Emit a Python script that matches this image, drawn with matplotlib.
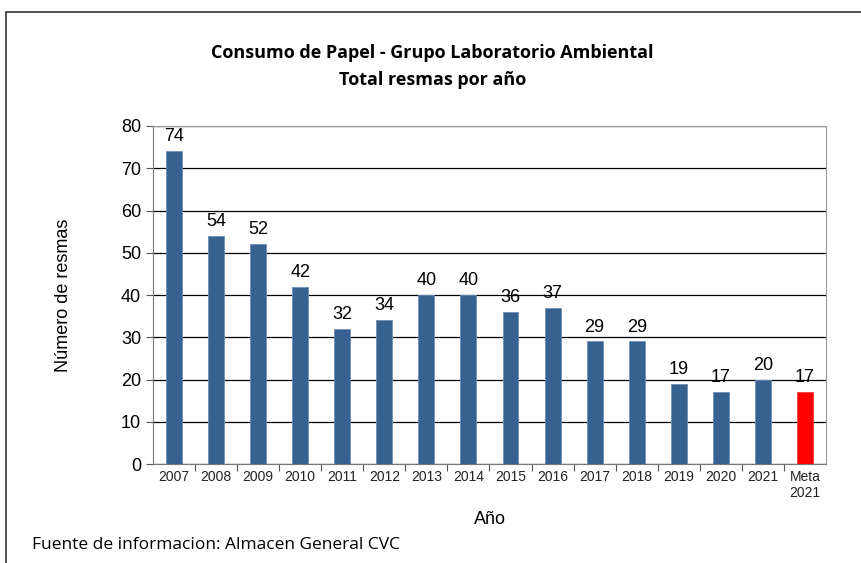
import matplotlib.pyplot as plt
from matplotlib.patches import Rectangle

# Datos
years = ["2007", "2008", "2009", "2010", "2011", "2012", "2013", "2014",
         "2015", "2016", "2017", "2018", "2019", "2020", "2021", "Meta\n2021"]
resmas = [74, 54, 52, 42, 32, 34, 40, 40, 36, 37, 29, 29, 19, 17, 20, 17]
bar_colors = ["#37618f"] * 15 + ["#ff0000"]

fig = plt.figure(figsize=(8.61, 5.63), dpi=100)
ax = fig.add_axes([0.1777, 0.1758, 0.9593 - 0.1777, 0.7762 - 0.1758])

# marco de la figura
fig.patches.append(Rectangle((6 / 861, -0.1), 1.1, 1 - 12 / 563 + 0.1,
                             transform=fig.transFigure, fill=False,
                             edgecolor="#333333", linewidth=1.2))

x = list(range(len(years)))
ax.bar(x, resmas, width=0.38, color=bar_colors, edgecolor="#6f8fb8", linewidth=0.6, zorder=3)
ax.patches[-1].set_edgecolor("#ff4040")

for xi, v in zip(x, resmas):
    ax.text(xi, v + 1.4, str(v), ha="center", va="bottom", fontsize=13,
            family="Liberation Sans", color="black")

ax.set_xlim(-0.5, len(years) - 0.5)
ax.set_ylim(0, 80)
ax.set_yticks(range(0, 81, 10))
ax.set_xticks([i + 0.5 for i in x[:-1]], minor=False)
ax.set_xticks(x, minor=True)
ax.set_xticklabels([], minor=False)
ax.set_xticklabels(years, minor=True, fontsize=10, family="Liberation Sans", color="#222222")
ax.tick_params(axis="x", which="major", length=5, direction="out", color="#555555")
ax.tick_params(axis="x", which="minor", length=0, pad=4)
ax.tick_params(axis="y", length=5, direction="out", labelsize=13, color="#555555")
for lab in ax.get_yticklabels():
    lab.set_family("Liberation Sans")

ax.grid(axis="y", color="black", linewidth=0.9, zorder=0)
for side in ["top", "right"]:
    ax.spines[side].set_color("#999999")
for side in ["left", "bottom"]:
    ax.spines[side].set_color("#777777")

ax.set_ylabel("Número de resmas", fontsize=13, family="Liberation Sans", labelpad=35)
ax.set_xlabel("Año", fontsize=13, family="Liberation Sans", labelpad=8)

fig.text(0.502, 0.906, "Consumo de Papel - Grupo Laboratorio Ambiental",
         ha="center", va="center", fontsize=13, weight="bold", family="Open Sans")
fig.text(0.502, 0.858, "Total resmas por año",
         ha="center", va="center", fontsize=13, weight="bold", family="Open Sans")
fig.text(32 / 861, 1 - 545 / 563, "Fuente de informacion: Almacen General CVC",
         ha="left", va="center", fontsize=12.5, family="Open Sans")

fig.savefig("out.png", dpi=100)
